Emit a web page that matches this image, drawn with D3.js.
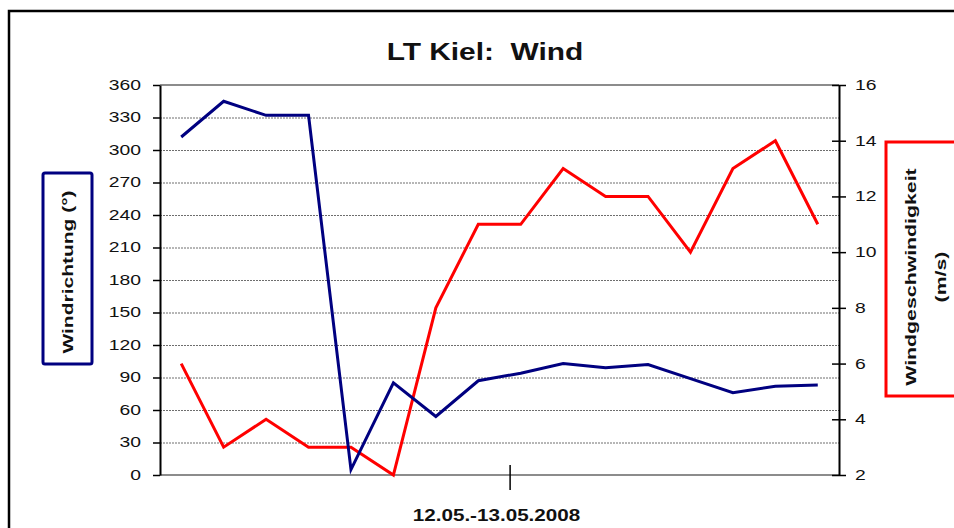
<!DOCTYPE html>
<html>
<head>
<meta charset="utf-8">
<script src="https://cdn.jsdelivr.net/npm/d3@7"></script>
<style>
  body { margin: 0; background: #fff; }
  svg { display: block; font-family: "Liberation Sans", Arial, sans-serif; }
</style>
</head>
<body>
<svg id="chart"></svg>
<script>
// wind direction (deg) and wind speed (m/s), 16 readings
let direction = [312, 345, 332, 332, 5, 85, 54, 87, 94, 103, 99, 102, 89, 76, 82, 83];
let speed = [6, 3, 4, 3, 3, 2, 8, 11, 11, 13, 12, 12, 10, 13, 14, 11];
let dirTicks = [0, 30, 60, 90, 120, 150, 180, 210, 240, 270, 300, 330, 360];
let speedTicks = [2, 4, 6, 8, 10, 12, 14, 16];
let dayTicks = [7.75]; // the one category mark on the x axis, in reading units
let dayLabel = "12.05.-13.05.2008";
let title = "LT Kiel:  Wind";
let dirTitle = "Windrichtung (°)";
let speedTitle = ["Windgeschwindigkeit", "(m/s)"];

let width = 954;
let height = 528;
let margin = { top: 85, bottom: 53, left: 160, right: 115 };
let bodyWidth = width - margin.left - margin.right;
let bodyHeight = height - margin.top - margin.bottom;

let navy = "#000080";
let red = "#ff0000";

let svg = d3.select("#chart")
    .attr("width", width)
    .attr("height", height);

// outer frame of the chart object, cut off at right and bottom
svg.append("rect")
    .attr("x", 9).attr("y", 11)
    .attr("width", width).attr("height", height)
    .attr("fill", "none")
    .attr("stroke", "#000")
    .attr("stroke-width", 2.5);

let xScale = d3.scaleLinear()
    .domain([-0.5, direction.length - 0.5])
    .range([0, bodyWidth]);
let yLeft = d3.scaleLinear()
    .domain([0, 360])
    .range([bodyHeight, 0]);
let yRight = d3.scaleLinear()
    .domain([2, 16])
    .range([bodyHeight, 0]);

let body = svg.append("g")
    .attr("transform", `translate(${margin.left},${margin.top})`);

// dotted gridlines from the left axis
body.append("g")
    .call(d3.axisLeft(yLeft).tickValues(dirTicks).tickSize(-bodyWidth).tickFormat(""))
    .call(g => g.select(".domain").remove())
    .selectAll(".tick line")
    .attr("stroke", "#6e6e6e")
    .attr("stroke-dasharray", "2,1");

// plot border top and bottom
body.append("line")
    .attr("x1", 0).attr("x2", bodyWidth)
    .attr("y1", 0).attr("y2", 0)
    .attr("stroke", "#8c8c8c").attr("stroke-width", 2);
body.append("line")
    .attr("x1", 0).attr("x2", bodyWidth)
    .attr("y1", bodyHeight).attr("y2", bodyHeight)
    .attr("stroke", "#8c8c8c").attr("stroke-width", 2);

// stretch the text horizontally like the original export
let sx = 1.38;

let leftAxis = body.append("g")
    .call(d3.axisLeft(yLeft).tickValues(dirTicks).tickSize(7).tickSizeOuter(0).tickPadding(12));
leftAxis.select(".domain").attr("stroke-width", 2);
leftAxis.selectAll(".tick line").attr("stroke-width", 1.5);
leftAxis.selectAll("text")
    .attr("font-size", 14)
    .attr("fill", "#111")
    .attr("x", -19 / sx)
    .attr("transform", `scale(${sx},1)`);

let rightAxis = body.append("g")
    .attr("transform", `translate(${bodyWidth},0)`)
    .call(d3.axisRight(yRight).tickValues(speedTicks).tickSize(7).tickSizeOuter(0).tickPadding(10));
rightAxis.select(".domain").attr("stroke-width", 2);
rightAxis.selectAll(".tick line").attr("x1", -7).attr("stroke-width", 1.5);
rightAxis.selectAll("text")
    .attr("font-size", 14)
    .attr("fill", "#111")
    .attr("x", 16 / sx)
    .attr("transform", `scale(${sx},1)`);

// the single category tick on the x axis
body.append("g")
    .selectAll("line")
    .data(dayTicks)
    .enter().append("line")
    .attr("x1", d => xScale(d)).attr("x2", d => xScale(d))
    .attr("y1", bodyHeight - 10).attr("y2", bodyHeight + 15)
    .attr("stroke", "#000").attr("stroke-width", 1.5);

// series lines
let dirLine = d3.line()
    .x((d, i) => xScale(i))
    .y(d => yLeft(d));
let speedLine = d3.line()
    .x((d, i) => xScale(i))
    .y(d => yRight(d));

body.append("path")
    .datum(speed)
    .attr("d", speedLine)
    .attr("fill", "none")
    .attr("stroke", red)
    .attr("stroke-width", 3);
body.append("path")
    .datum(direction)
    .attr("d", dirLine)
    .attr("fill", "none")
    .attr("stroke", navy)
    .attr("stroke-width", 3);

// texts
function label(text, x, y, opts) {
    return svg.append("text")
        .attr("transform", `translate(${x},${y}) rotate(${opts.rotate || 0}) scale(${opts.sx},1)`)
        .attr("text-anchor", "middle")
        .attr("font-size", opts.size)
        .attr("font-weight", "bold")
        .attr("fill", "#111")
        .style("white-space", "pre")
        .text(text);
}

label(title, 485, 60, { size: 23, sx: 1.3 });
label(dayLabel, margin.left + xScale(7.5) - 3, 521, { size: 16, sx: 1.29 });

// left axis title in a navy box
svg.append("rect")
    .attr("x", 43).attr("y", 173)
    .attr("width", 49).attr("height", 191)
    .attr("rx", 2)
    .attr("fill", "#fff")
    .attr("stroke", navy)
    .attr("stroke-width", 3);
label(dirTitle, 73, 272, { size: 15, rotate: -90, sx: 1.4 });

// right axis title in a red box, running off the edge
svg.append("rect")
    .attr("x", 886).attr("y", 142)
    .attr("width", 120).attr("height", 254)
    .attr("fill", "#fff")
    .attr("stroke", red)
    .attr("stroke-width", 3);
label(speedTitle[0], 916, 277, { size: 15, rotate: -90, sx: 1.42 });
label(speedTitle[1], 946, 277, { size: 15, rotate: -90, sx: 1.42 });
</script>
</body>
</html>
